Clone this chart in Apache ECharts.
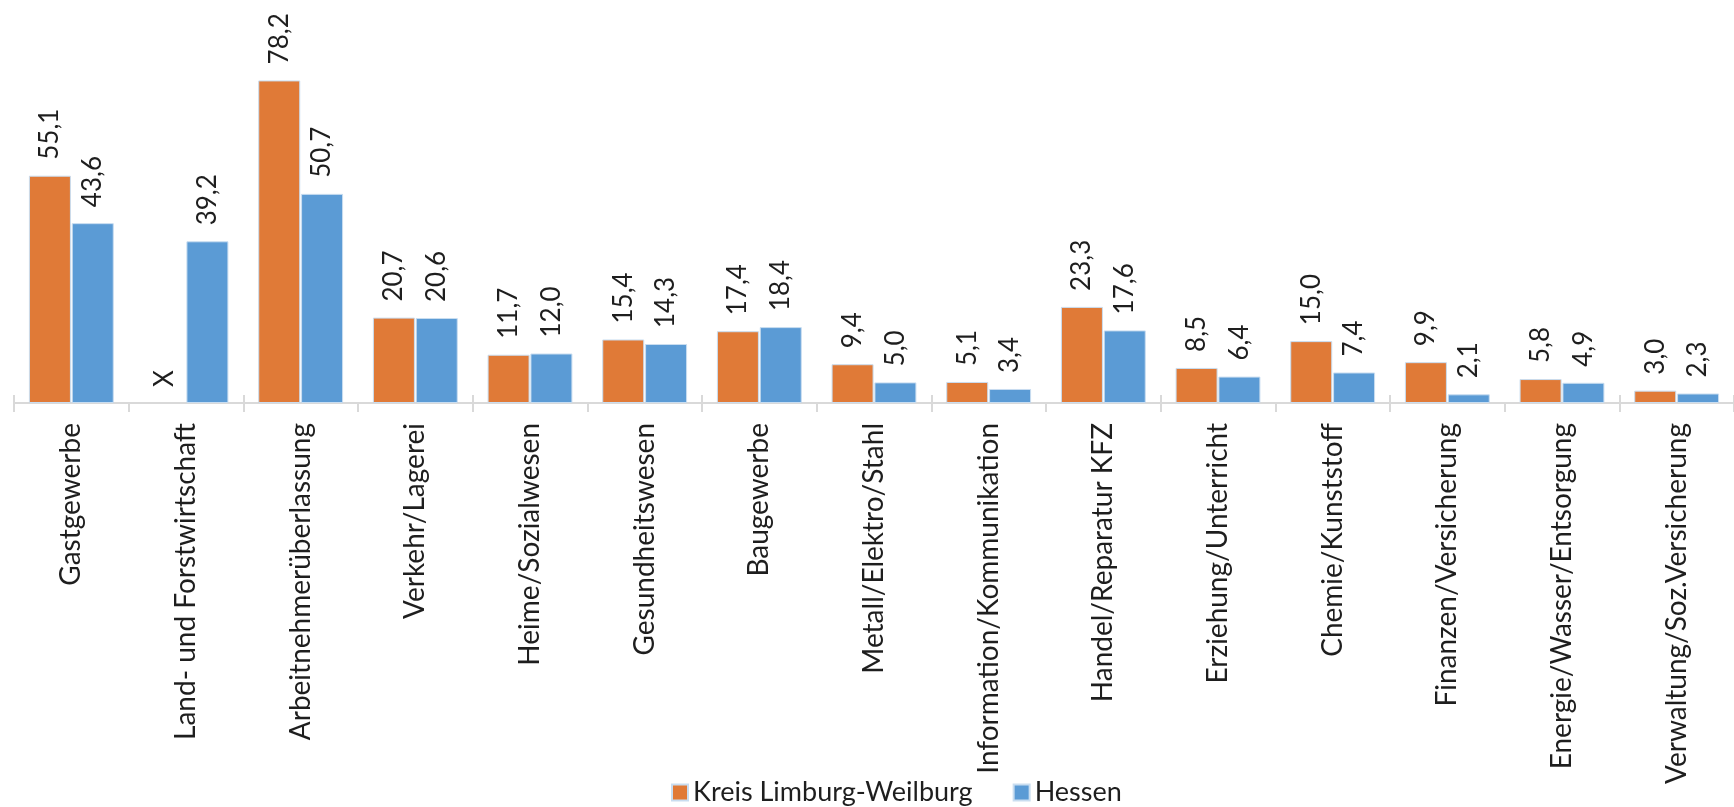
<!DOCTYPE html>
<html>
<head>
<meta charset="utf-8">
<script src="https://cdn.jsdelivr.net/npm/echarts@6/dist/echarts.min.js"></script>
<style>
html,body{margin:0;padding:0;background:#fff;}
#chart{width:1734px;height:807px;}
</style>
</head>
<body>
<div id="chart"></div>
<script>
const categories = ['Gastgewerbe','Land- und Forstwirtschaft','Arbeitnehmerüberlassung','Verkehr/Lagerei','Heime/Sozialwesen','Gesundheitswesen','Baugewerbe','Metall/Elektro/Stahl','Information/Kommunikation','Handel/Reparatur KFZ','Erziehung/Unterricht','Chemie/Kunststoff','Finanzen/Versicherung','Energie/Wasser/Entsorgung','Verwaltung/Soz.Versicherung'];
const kreisValues = [55.1, null, 78.2, 20.7, 11.7, 15.4, 17.4, 9.4, 5.1, 23.3, 8.5, 15.0, 9.9, 5.8, 3.0];
const hessenValues = [43.6, 39.2, 50.7, 20.6, 12.0, 14.3, 18.4, 5.0, 3.4, 17.6, 6.4, 7.4, 2.1, 4.9, 2.3];
const seriesNames = ['Kreis Limburg-Weilburg', 'Hessen'];
const missingLabel = 'X';

const FONT = 'Lato';
const TXT = '#1e1e1e';
const fmt = v => v.toFixed(1).replace('.', ',');

function buildData(arr) {
  return arr.map(v => v === null
    ? { value: 0, itemStyle: { color: 'transparent', borderWidth: 0 }, label: { formatter: missingLabel } }
    : v);
}

const labelCfg = {
  show: true, position: 'top', rotate: 90, align: 'left', verticalAlign: 'middle',
  distance: 16, fontFamily: FONT, fontSize: 26, color: TXT,
  formatter: p => fmt(p.value)
};

const chart = echarts.init(document.getElementById('chart'));
chart.setOption({
  animation: false,
  backgroundColor: '#fff',
  grid: { left: 14, right: -13, top: 73, bottom: 404, containLabel: false },
  legend: {
    data: seriesNames, left: 671, top: 779, padding: 0, itemWidth: 16, itemHeight: 16, itemGap: 40,
    icon: 'rect', textStyle: { fontFamily: FONT, fontSize: 27, color: TXT }
  },
  xAxis: [{
    type: 'category', data: categories, boundaryGap: true,
    axisLine: { lineStyle: { color: '#d9d9d9', width: 2 } },
    axisTick: { show: true, length: 9, lineStyle: { color: '#d9d9d9', width: 2 } },
    axisLabel: { rotate: 90, margin: 20, interval: 0, fontFamily: FONT, fontSize: 28, color: TXT }
  }, {
    type: 'category', data: categories, position: 'bottom', boundaryGap: true,
    axisLine: { show: false },
    axisTick: { show: true, inside: true, length: 8, lineStyle: { color: '#d9d9d9', width: 2 } },
    axisLabel: { show: false }
  }],
  yAxis: { type: 'value', min: 0, max: 80, show: false, splitLine: { show: false } },
  series: [
    { name: seriesNames[0], type: 'bar', data: buildData(kreisValues), barWidth: 42, barGap: '2%',
      itemStyle: { color: '#E07A37', borderColor: '#C9DDF0', borderWidth: 1 }, label: labelCfg },
    { name: seriesNames[1], type: 'bar', data: buildData(hessenValues), barWidth: 42,
      itemStyle: { color: '#5B9BD5', borderColor: '#C9DDF0', borderWidth: 1 }, label: labelCfg }
  ]
});
</script>
</body>
</html>
